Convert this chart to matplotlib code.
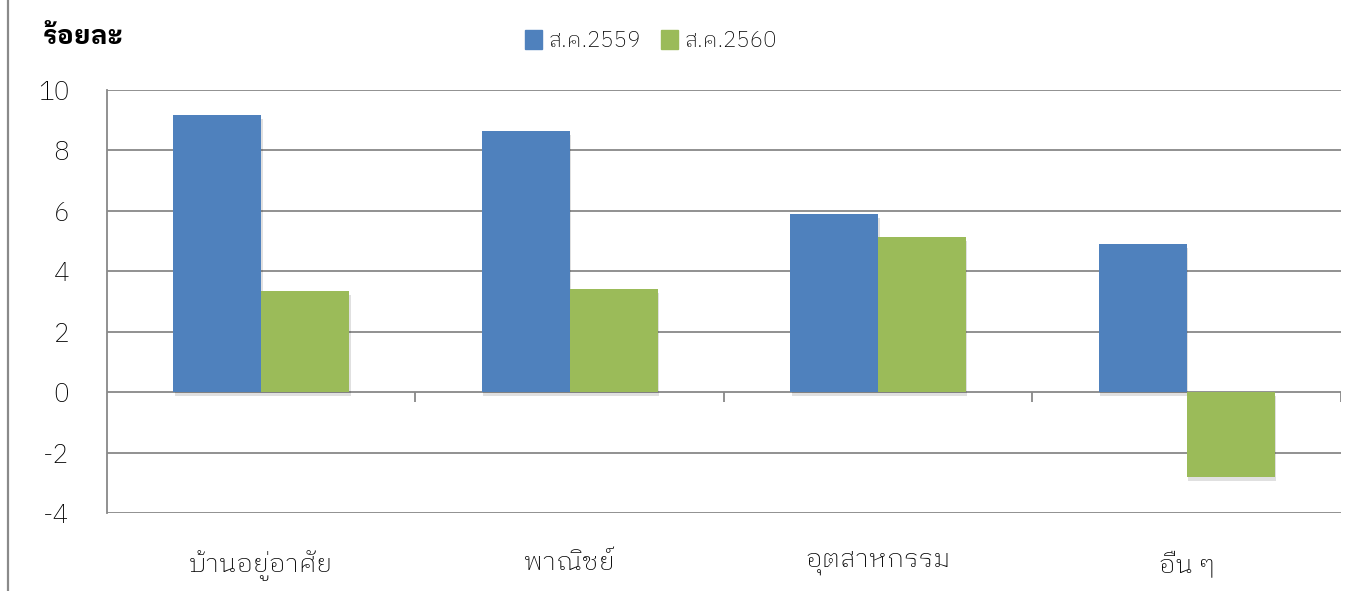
import matplotlib
matplotlib.use('Agg')
import numpy as np
import matplotlib.pyplot as plt
from matplotlib.patches import Patch
from matplotlib.lines import Line2D
import matplotlib.patheffects as pe

plt.rcParams['font.family'] = ['IBM Plex Sans Thai Looped', 'DejaVu Sans']
plt.rcParams['font.weight'] = 'light'
plt.rcParams['axes.unicode_minus'] = False

categories = ['บ้านอยู่อาศัย', 'พาณิชย์', 'อุตสาหกรรม', 'อื่น ๆ']
series_names = ['ส.ค.2559', 'ส.ค.2560']
val_2559 = [9.17, 8.64, 5.89, 4.90]
val_2560 = [3.34, 3.41, 5.13, -2.81]
yticks = [-4, -2, 0, 2, 4, 6, 8, 10]

blue = '#4F81BD'
green = '#9BBB59'
grid_col = '#888888'

fig = plt.figure(figsize=(13.59, 5.91), dpi=100)
ax = fig.add_axes([0.0787, 0.132, 0.908, 0.7157])

x = np.arange(len(categories))
w = 0.285
shadow = [pe.SimplePatchShadow(offset=(1, -3), shadow_rgbFace='#000000', alpha=0.12), pe.Normal()]
b1 = ax.bar(x - w / 2, val_2559, w, color=blue, zorder=3)
b2 = ax.bar(x + w / 2, val_2560, w, color=green, zorder=3)
for b in list(b1) + list(b2):
    b.set_path_effects(shadow)

ax.set_ylim(-4, 10)
ax.set_xlim(-0.5, len(categories) - 0.5)
ax.set_yticks(yticks)
ax.set_yticklabels([str(t) for t in yticks])
for t in yticks:
    ax.axhline(t, color=grid_col, lw=1.3, zorder=1)

# category boundary ticks on the zero line
ax.vlines(x + 0.5, -0.33, 0, color=grid_col, lw=1.3, zorder=2)

ax.set_xticks(x)
ax.set_xticklabels(categories)
ax.tick_params(axis='x', length=0, pad=27, labelsize=19)
ax.tick_params(axis='y', length=0, pad=27, labelsize=19)
for s in ['top', 'right', 'bottom']:
    ax.spines[s].set_visible(False)
ax.spines['left'].set_color(grid_col)
ax.spines['left'].set_linewidth(1.3)

fig.text(43 / 1359, 1 - 37 / 591, 'ร้อยละ', fontsize=19, fontweight='bold', ha='left', va='center')

handles = [Patch(color=blue), Patch(color=green)]
fig.legend(handles, series_names, loc='center', bbox_to_anchor=(651 / 1359, 1 - 41 / 591), ncol=2,
           frameon=False, fontsize=16, handlelength=0.75, handleheight=0.95, handletextpad=0.3,
           columnspacing=0.9)

fig.add_artist(Line2D([8 / 1359, 8 / 1359], [0, 1], transform=fig.transFigure, color='#8a8a8a', lw=1.6))

fig.savefig('out.png', dpi=100)
